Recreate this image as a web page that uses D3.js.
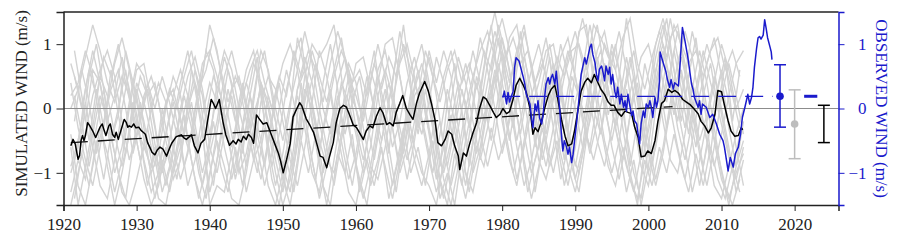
<!DOCTYPE html>
<html>
<head>
<meta charset="utf-8">
<script src="https://cdn.jsdelivr.net/npm/d3@7"></script>
<style>
  body { margin: 0; background: #fff; }
  svg { display: block; font-family: "Liberation Serif", "Times New Roman", serif; }
</style>
</head>
<body>
<div id="chart"></div>
<script>
// yearly values of the simulated ensemble members, 1921..2013
const simYears = d3.range(1921, 2014);
const simRuns = [
  [0.7,0.3,0.8,1.3,0.9,0.4,0.1,0.5,0.2,-0.3, -0.6,-0.9,-0.5,0.1,0.3,-0.2,-0.6,-0.2,0.5,1.3, 0.9,0.2,-0.4,-1.0,-0.7,-0.1,0.3,-0.2,-0.8,-1.3,
   -0.6,0.3,0.6,0.1,-0.5,-0.9,-0.3,0.4,0.1,-0.4, -1.0,-0.6,0.2,0.6,0.2,-0.3,-0.8,-0.4,0.3,0.8, 0.2,-0.6,-1.2,-0.7,0.0,0.5,0.9,1.2,0.8,0.1,
   -0.5,0.2,0.8,0.3,-0.4,-0.9,-0.3,0.4,0.9,0.5, -0.2,-0.6,0.1,0.7,0.3,-0.4,-0.9,-1.3,-0.7,0.0, 0.6,1.0,0.4,-0.3,-0.8,-0.2,0.5,1.0,0.6,-0.1, -0.7,-1.1,-0.6],
  [-1.5,-1.0,-0.4,0.2,0.6,0.9,0.5,-0.2,-0.8,-0.4, 0.2,0.5,0.1,-0.5,-1.0,-0.6,0.0,0.6,0.2,-0.6, -1.0,-0.4,0.3,0.5,0.0,-0.6,-1.1,-0.5,0.2,0.7,
   1.0,0.6,-0.1,-0.8,-1.4,-0.9,-0.2,0.3,0.7,0.4, -0.3,-0.9,-1.1,-0.6,0.1,0.7,1.0,0.5,-0.2,-0.8, -1.3,-0.9,-0.2,0.4,0.1,-0.5,-0.2,0.4,1.0,1.4,
   0.9,0.3,-0.4,-1.0,-0.6,0.2,0.7,0.3,-0.4,-1.1, -0.6,0.3,0.9,1.2,0.6,-0.1,0.4,0.9,0.2,-0.5, -1.1,-0.6,0.1,0.7,1.2,0.8,0.1,-0.5,-0.9,-0.4, 0.2,0.7,0.9],
  [-0.4,-1.2,-1.5,-0.9,-0.3,-0.7,-1.3,-0.8,0.0,0.6, 0.7,0.1,-0.6,-1.2,-0.7,0.0,0.5,0.8,0.3,-0.4, 0.2,0.8,0.4,-0.3,-0.9,-0.4,0.4,0.0,-0.6,-1.1,
   -1.5,-0.8,0.2,0.9,0.5,0.1,0.6,1.1,0.4,-0.3, -0.8,-0.3,0.4,1.0,1.1,0.5,-0.2,-0.8,-1.2,-0.7, 0.0,0.5,0.9,0.3,-0.4,-1.0,-0.6,0.1,0.5,-0.2,
   -0.8,-1.2,-0.5,0.2,0.6,1.1,0.4,-0.3,-0.9,-1.3, -0.7,0.0,0.5,0.1,-0.6,-1.1,-0.5,0.3,0.8,1.0, 0.5,-0.2,-0.8,-1.0,-0.4,0.3,0.9,0.4,-0.3,-1.0, -1.5,-0.9,-0.2],
  [0.2,0.4,0.9,0.5,-0.2,-0.9,-1.5,-1.0,-0.4,0.3, -0.2,-0.8,-1.4,-1.5,-0.9,-0.3,0.2,-0.4,-1.0,-0.5, 0.4,0.9,0.6,0.0,-0.5,0.2,0.9,0.6,0.0,-0.5,
   0.1,0.6,1.2,0.7,0.0,-0.6,-1.2,-0.5,0.1,0.7, 0.8,0.3,-0.4,-0.9,-1.4,-0.8,-0.1,0.6,1.0,0.4, -0.4,-1.1,-1.5,-0.9,-0.2,0.4,1.1,0.6,0.0,-0.7,
   -0.2,0.6,1.2,0.7,0.1,-0.5,-1.0,-0.4,0.3,0.9, 1.4,0.9,0.2,-0.5,-1.0,-0.5,0.3,-0.2,-0.9,-1.2, -0.5,0.4,1.1,1.3,0.6,-0.1,-0.7,-1.2,-0.6,0.2, 0.7,0.2,-0.4],
  [-0.9,-0.5,0.1,-0.6,-1.2,-1.4,-0.8,0.0,0.6,0.2, -0.5,-1.0,-0.7,0.0,0.5,0.2,-0.5,-1.1,-1.5,-1.0, -0.5,-0.9,-1.4,-1.5,-1.0,-0.3,0.4,0.1,-0.5,-0.9,
   -0.4,0.3,0.8,0.4,-0.2,-0.8,-1.0,-0.4,0.3,0.0, -0.6,-1.2,-0.8,-0.2,0.4,1.2,0.6,0.0,-0.4,0.1, 0.8,0.4,-0.3,-0.9,-1.4,-0.8,0.0,0.7,1.2,0.8,
   0.2,-0.5,0.1,0.6,1.0,0.5,0.0,-0.7,-1.2,-0.6, 0.2,0.8,1.3,0.6,0.0,-0.6,-1.3,-0.8,-1.5,-0.9, 0.0,0.7,1.4,0.8,0.2,-0.5,-1.2,-0.6,0.1,0.6, 0.1,-0.6,-1.2],
  [0.4,-0.3,-0.8,-1.2,-0.6,0.1,0.7,1.1,0.6,-0.1, -0.8,-1.3,-1.0,-0.4,0.1,-0.5,-1.2,-0.8,-0.1,0.4, 0.1,-0.6,-1.1,-0.6,0.1,0.7,0.4,-0.3,-1.0,-1.5,
   -1.1,-0.4,0.5,1.0,0.8,1.0,1.3,0.5,-0.3,-0.9, -1.4,-0.9,-0.2,0.3,-0.3,-0.9,-0.4,0.3,0.7,0.2, -0.6,-1.0,-0.5,0.2,0.7,0.2,-0.4,-0.9,-0.4,0.4,
   1.1,1.3,0.6,-0.1,-0.8,-1.1,-0.6,0.2,0.8,1.2, 0.7,0.1,-0.5,-0.9,-0.3,0.5,1.4,0.6,-0.1,-0.7, -1.2,-0.7,0.0,-0.6,-1.1,-0.5,0.2,0.7,1.1,0.5, -0.3,-0.9,-0.5],
  [-1.3,-0.8,-1.1,-0.4,0.2,-0.2,-0.7,-1.3,-1.5,-1.1, -0.6,0.0,0.4,0.1,-0.6,-1.1,-0.7,0.0,0.7,0.9, 0.5,-0.1,-0.6,0.0,0.6,0.9,0.2,-0.6,-1.2,-0.7,
   0.0,1.1,0.6,-0.2,-0.9,-1.5,-0.8,-0.1,0.5,0.2, -0.2,0.4,1.0,0.5,-0.3,-1.0,-0.6,0.2,0.4,-0.3, -0.9,-1.4,-0.8,-0.3,0.3,0.9,0.4,-0.2,0.5,1.1,
   0.6,-0.1,-0.8,-1.4,-0.9,-0.2,0.3,1.0,0.5,0.0, -0.6,-0.2,0.4,1.0,0.7,1.2,0.6,-0.2,-0.8,0.1, 0.8,1.3,0.7,0.0,-0.6,-1.3,-0.8,-0.2,0.4,1.0, 0.6,0.0,0.3],
  [-0.6,-1.5,-0.9,-0.3,0.5,0.2,-0.4,-0.9,-0.4,0.4, 0.1,-0.4,-1.1,-0.8,-0.2,0.4,0.9,0.3,-0.4,-1.3, -0.8,-0.2,0.2,-0.5,-1.3,-0.8,0.1,0.5,0.3,-0.2,
   -0.8,-1.2,-0.6,0.1,0.9,0.5,-0.1,-0.7,-1.3,-1.5, -0.9,-0.2,0.6,0.9,0.3,-0.5,-1.1,-0.5,0.2,0.9, 0.4,0.9,0.5,-0.3,-1.0,-1.3,-0.7,0.0,0.6,0.2,
   -0.4,-1.1,-0.6,0.0,0.4,0.9,1.0,0.4,-0.3,-0.9, -0.3,0.4,0.8,0.3,0.9,0.3,-0.4,-1.0,-1.4,-0.6, 0.3,0.9,0.4,-0.2,0.5,1.2,0.7,0.0,-0.5,-1.1, -1.4,-1.0,-0.7],
  [0.0,0.3,-0.2,0.6,0.4,-0.3,-1.0,-0.6,0.1,0.7, 0.5,-0.2,-0.9,-0.4,0.2,0.6,0.2,-0.5,-1.2,-0.7, -0.2,0.5,0.9,0.4,-0.2,-0.8,-0.5,0.2,-0.2,-0.9,
   -1.3,-0.5,0.3,0.0,-0.6,-0.1,0.5,0.9,0.6,0.0, -0.5,-0.1,0.5,0.0,-0.6,-0.2,0.4,0.8,0.3,-0.4, -1.1,-0.6,0.1,0.8,0.4,-0.2,-0.8,-0.3,0.3,0.9,
   0.4,0.9,1.3,0.6,0.0,-0.4,0.2,0.8,1.1,0.5, -0.1,-0.7,-0.2,0.3,1.0,0.6,0.0,0.5,-0.2,-1.0, -0.6,0.1,0.6,1.2,0.7,0.1,-0.5,-0.1,0.5,0.0, -0.6,-1.3,-0.8],
  [-1.0,-0.6,0.3,0.9,0.4,-0.2,0.2,0.8,0.3,-0.5, -1.1,-1.5,-1.2,-0.6,-1.1,-0.8,0.0,0.4,-0.3,-1.5, -1.2,-1.3,-0.7,-0.1,0.4,0.0,-0.5,-1.2,-1.5,-1.0,
   -0.3,0.2,-0.3,-1.0,-1.3,-0.6,0.0,-0.5,-1.1,-0.7, 0.0,0.6,0.2,-0.5,-1.2,-0.7,0.0,-0.6,-1.0,-1.2, -1.5,-0.8,-0.1,-0.6,-1.2,-0.5,0.3,1.0,1.5,0.9,
   0.1,-0.6,-1.2,-0.8,-0.2,0.4,-0.3,-1.1,-0.6,0.1, 0.6,1.3,0.7,0.0,-0.5,0.1,0.8,0.2,-0.5,0.2, 1.0,1.4,0.9,0.3,-0.3,0.4,0.0,-0.5,-1.2,-1.4, -0.9,-0.4,0.0]
];

// further members sampled mid-year, 1921.5..2012.5
const simYearsMid = d3.range(1921.5, 2013, 1);
const simRunsMid = [
  [0.2,-0.4,0.5,1.0,0.3,-0.5,-0.1,0.9,0.4,-0.2, 0.3,-0.3,-1.0,-0.5,0.1,-0.4,0.6,0.2,0.9,0.6, -0.1,0.6,0.1,-0.7,0.2,0.8,-0.2,-0.9,-0.4,0.3,
   0.8,1.1,0.2,-0.5,0.4,1.0,0.3,-0.6,-1.2,-0.5, 0.3,0.9,0.1,-0.7,0.5,1.3,0.4,-0.3,0.6,-0.2, -0.9,0.1,0.7,-0.1,-0.9,-0.2,0.6,1.3,0.4,-0.5,
   0.3,1.2,0.5,-0.6,0.2,0.8,-0.1,-0.8,0.1,1.2, 1.3,0.4,-0.4,0.5,1.0,0.1,-0.9,-0.2,0.7,0.2, 0.9,1.4,0.6,-0.2,0.5,1.1,0.2,-0.7,0.3,0.8, -0.2,0.6],
  [-1.4,-0.7,-1.2,-0.5,-1.1,-0.4,-1.0,-1.4,-0.6,0.1, -0.7,-1.4,-0.8,-1.3,-0.7,-0.1,-0.8,-1.4,-0.9,-0.2, -0.9,-1.3,-0.6,-1.2,-0.5,-1.0,-0.3,-1.1,-1.5,-0.8,
   -1.3,-0.5,-1.0,-0.4,-1.2,-1.5,-0.7,-1.0,-0.4,-1.3, -0.8,-1.2,-0.6,-1.4,-0.9,-0.3,-1.0,-0.6,-1.2,-0.5, -1.4,-1.0,-1.5,-0.7,-1.3,-0.6,-0.9,-0.3,-0.8,-0.4,
   -1.0,-0.5,-1.3,-0.8,-0.3,-0.9,-0.5,-1.2,-0.7,-1.0, -0.4,-0.8,-0.3,-0.9,-1.2,-0.6,-1.1,-1.4,-0.8,-1.2, -0.6,-1.0,-0.4,-0.9,-1.3,-0.7,-1.2,-0.6,-1.1,-1.4, -0.9,-1.3],
  [0.5,0.0,0.6,0.2,0.8,0.5,1.0,0.4,-0.1,0.5, 0.2,0.4,-0.2,0.3,0.0,0.5,0.9,0.3,0.6,1.1, 0.6,0.1,0.5,0.2,0.6,0.9,0.4,0.0,0.5,0.2,
   0.9,0.5,0.9,0.6,0.1,0.7,1.2,0.8,0.4,0.6, 0.2,0.7,0.3,0.8,0.5,1.0,0.6,0.2,0.9,0.5, 0.1,0.6,0.9,0.4,0.7,0.3,0.9,0.6,1.3,0.8,
   1.1,0.7,0.9,0.4,0.7,0.3,0.8,0.5,0.9,1.0, 0.6,1.3,1.1,0.8,0.6,1.1,1.4,0.7,0.3,0.8, 1.2,0.8,1.3,1.0,0.7,0.9,0.5,0.9,1.1,0.6, 0.9,0.5],
  [-0.8,-0.2,-0.9,-0.3,0.3,-0.5,0.0,0.6,-0.2,-0.8, -0.3,-0.9,0.0,-0.6,-1.1,-0.4,0.1,-0.6,-0.1,0.5, 0.2,-0.5,-1.0,-0.3,0.2,-0.4,-0.9,-0.2,0.4,-0.3,
   -0.9,-0.2,0.4,-0.3,-1.0,-0.5,0.2,-0.4,0.1,0.5, -0.2,-0.8,-0.1,0.4,-0.2,-0.7,0.1,0.6,-0.1,-0.6, -0.2,-0.9,-0.3,0.3,-0.3,0.5,0.1,-0.5,0.2,0.9,
   0.2,-0.4,0.3,-0.2,-0.8,-0.2,0.5,-0.1,-0.6,0.1, 0.7,0.0,-0.4,0.3,-0.3,-0.8,-0.1,0.4,-0.4,-0.9, -0.2,0.5,-0.1,0.6,0.0,-0.6,0.2,0.7,0.0,-0.5, -1.0,-0.4],
  [0.9,0.2,-0.5,0.3,-0.3,0.6,-0.1,-0.7,0.1,-0.5, -1.2,-0.6,-1.3,-0.9,-0.3,-0.9,-0.4,0.3,-0.5,-1.2, -0.4,0.3,-0.2,0.4,-0.3,0.5,0.9,0.2,-0.6,-1.3,
   -0.6,0.4,-0.5,-1.1,-0.3,0.3,-0.4,0.2,-0.6,-1.1, -1.5,-0.7,0.0,-0.6,-1.3,-0.5,0.2,-0.4,0.3,-0.3, -1.1,-1.5,-0.7,-1.2,-0.4,0.4,-0.2,0.5,1.1,0.3,
   -0.3,0.5,-0.2,-1.3,-0.6,0.2,0.6,0.0,-0.9,-1.3, -0.5,0.2,0.6,-0.1,0.4,-0.3,-1.0,-1.5,-0.6,-0.1, 0.4,-0.3,0.2,0.8,0.3,-0.3,-0.9,-0.2,-0.7,-1.2, -1.5,-1.1],
  [-0.2,0.6,0.1,-0.7,-0.2,0.3,0.6,0.0,-0.7,-0.2, 0.4,0.0,0.5,0.1,-0.4,0.2,-0.3,-1.0,-1.4,-0.7, 0.0,-0.4,-1.1,-0.6,0.0,-0.6,-1.2,-0.7,0.0,0.6,
   0.1,-0.5,0.2,0.7,0.0,-0.4,0.4,0.8,0.2,-0.2, 0.5,0.0,-0.5,0.1,0.8,0.2,-0.5,0.1,-0.4,-1.0, -0.4,0.3,-0.2,-0.8,-0.2,-0.7,-0.1,0.2,0.7,0.1,
   0.6,1.0,0.2,-0.3,0.4,1.0,0.3,-0.4,0.5,0.2, -0.2,0.6,0.9,0.3,-0.3,0.2,0.8,0.1,-0.6,0.1, 0.7,0.1,0.9,0.3,-0.4,0.3,0.9,0.4,0.0,0.7, 0.2,-0.3]
];

// ensemble mean [year, m/s]
const simMean = [
  [1921.0,-0.58],[1921.3,-0.48],[1921.6,-0.55],[1922.0,-0.79],[1922.2,-0.73],[1922.4,-0.50],[1922.6,-0.42],[1922.8,-0.50],
  [1923.0,-0.42],[1923.3,-0.22],[1923.6,-0.27],[1924.0,-0.35],[1924.4,-0.45],[1924.7,-0.37],[1925.0,-0.29],[1925.3,-0.24],
  [1925.5,-0.32],[1925.8,-0.42],[1926.2,-0.27],[1926.4,-0.24],[1926.7,-0.40],[1927.0,-0.45],[1927.2,-0.37],[1927.5,-0.48],
  [1927.7,-0.40],[1928.3,-0.17],[1928.6,-0.22],[1928.8,-0.29],[1929.0,-0.27],[1929.3,-0.29],[1929.6,-0.24],[1929.9,-0.30],
  [1930.3,-0.29],[1930.6,-0.34],[1930.9,-0.37],[1931.2,-0.40],[1931.5,-0.53],[1931.8,-0.60],[1932.1,-0.68],[1932.5,-0.72],
  [1932.8,-0.65],[1933.2,-0.60],[1933.6,-0.63],[1934.1,-0.74],[1934.5,-0.62],[1934.8,-0.54],[1935.4,-0.44],[1936.1,-0.41],
  [1936.5,-0.46],[1936.8,-0.48],[1937.5,-0.41],[1937.9,-0.58],[1938.4,-0.69],[1938.8,-0.54],[1939.3,-0.48],[1939.7,-0.20],
  [1940.2,0.14],[1940.5,0.08],[1940.8,0.00],[1941.3,0.14],[1941.8,-0.20],[1942.2,-0.41],[1942.7,-0.57],[1943.2,-0.50],
  [1943.6,-0.55],[1943.9,-0.48],[1944.3,-0.52],[1944.6,-0.43],[1945.0,-0.48],[1945.3,-0.40],[1945.7,-0.45],[1946.0,-0.54],
  [1946.4,-0.10],[1946.7,-0.15],[1946.9,-0.18],[1947.3,-0.24],[1947.8,-0.22],[1948.3,-0.37],[1948.9,-0.55],[1949.4,-0.70],
  [1949.7,-0.82],[1950.05,-1.00],[1950.5,-0.80],[1951.0,-0.55],[1951.4,-0.13],[1951.8,-0.03],[1952.3,0.09],[1952.6,0.04],
  [1953.2,-0.16],[1953.7,-0.26],[1954.2,-0.37],[1954.6,-0.53],[1955.1,-0.74],[1955.5,-0.76],[1956.0,-0.92],[1956.4,-0.74],
  [1956.9,-0.53],[1957.3,-0.22],[1957.8,0.00],[1958.3,0.05],[1958.7,0.02],[1959.2,-0.12],[1959.6,-0.25],[1960.1,-0.30],
  [1960.5,-0.38],[1961.0,-0.48],[1961.4,-0.35],[1961.9,-0.27],[1962.3,-0.30],[1962.8,-0.12],[1963.3,0.01],[1963.7,-0.07],
  [1964.2,-0.25],[1964.6,-0.22],[1965.1,-0.27],[1965.5,-0.06],[1966.0,0.08],[1966.4,0.20],[1966.9,0.00],[1967.4,-0.10],
  [1967.8,-0.17],[1968.3,0.09],[1968.7,0.24],[1969.4,0.42],[1969.9,0.27],[1970.3,0.09],[1970.8,-0.17],[1971.2,-0.53],
  [1971.7,-0.58],[1972.2,-0.48],[1972.6,-0.35],[1973.1,-0.40],[1973.5,-0.58],[1974.0,-0.74],[1974.2,-0.95],[1974.7,-0.69],
  [1975.1,-0.74],[1975.6,-0.53],[1976.0,-0.38],[1976.5,-0.22],[1976.9,0.00],[1977.4,0.18],[1977.8,0.15],[1978.3,0.05],
  [1978.8,-0.06],[1979.2,-0.14],[1979.7,-0.09],[1980.1,0.00],[1980.6,-0.08],[1981.0,-0.05],[1981.5,0.15],[1981.9,0.36],
  [1982.4,0.47],[1982.9,0.36],[1983.3,0.25],[1983.8,0.00],[1984.2,-0.40],[1984.5,-0.30],[1984.9,-0.36],[1985.4,-0.19],
  [1985.8,0.00],[1986.3,0.20],[1986.7,0.30],[1987.2,0.36],[1987.6,0.15],[1988.1,-0.17],[1988.6,-0.43],[1989.0,-0.58],
  [1989.5,-0.55],[1989.9,-0.35],[1990.4,0.00],[1990.8,0.27],[1991.3,0.41],[1991.7,0.47],[1992.2,0.40],[1992.6,0.53],
  [1993.1,0.40],[1993.5,0.30],[1994.0,0.22],[1994.5,0.10],[1994.9,0.05],[1995.3,0.05],[1995.8,-0.06],[1996.3,-0.12],
  [1996.8,-0.04],[1997.2,-0.06],[1997.7,-0.08],[1998.1,-0.28],[1998.6,-0.45],[1999.0,-0.75],[1999.5,-0.74],[1999.9,-0.66],
  [2000.4,-0.70],[2000.9,-0.50],[2001.3,-0.20],[2001.8,0.08],[2002.2,0.12],[2002.7,0.30],[2003.2,0.25],[2003.6,0.28],
  [2004.1,0.24],[2004.7,0.14],[2005.2,0.10],[2005.7,0.06],[2006.2,0.00],[2006.8,-0.08],[2007.2,-0.20],[2007.7,-0.27],
  [2008.2,-0.38],[2008.6,-0.30],[2009.1,-0.09],[2009.5,0.28],[2010.0,0.26],[2010.4,0.05],[2010.9,-0.19],[2011.3,-0.35],
  [2011.8,-0.43],[2012.3,-0.42],[2012.7,-0.30],[2012.9,-0.33]
];

// observed wind [year, m/s]
const observed = [
  [1980.1,0.17],[1980.3,0.27],[1980.6,0.07],[1980.8,0.25],[1981.0,0.10],[1981.2,0.17],[1981.5,0.27],[1981.7,0.64],
  [1981.9,0.79],[1982.3,0.74],[1982.6,0.61],[1982.9,0.48],[1983.1,0.38],[1983.3,0.22],[1983.8,0.07],[1984.0,-0.14],
  [1984.2,-0.30],[1984.5,0.07],[1984.7,-0.04],[1984.9,0.12],[1985.1,-0.14],[1985.4,-0.24],[1985.6,-0.09],[1985.8,0.17],
  [1986.0,0.38],[1986.3,0.48],[1986.5,0.38],[1986.7,0.48],[1986.9,0.53],[1987.2,0.38],[1987.4,0.58],[1987.6,0.33],
  [1987.9,-0.05],[1988.1,-0.40],[1988.3,-0.66],[1988.5,-0.50],[1988.8,-0.60],[1989.0,-0.71],[1989.2,-0.60],[1989.5,-0.84],
  [1989.7,-0.71],[1989.9,-0.50],[1990.1,-0.30],[1990.4,0.02],[1990.6,0.27],[1990.8,0.53],[1991.1,0.69],[1991.3,0.79],
  [1991.5,0.69],[1991.7,0.79],[1992.0,0.95],[1992.2,1.00],[1992.4,0.84],[1992.7,0.71],[1992.9,0.53],[1993.1,0.43],
  [1993.3,0.61],[1993.6,0.66],[1993.8,0.56],[1994.0,0.43],[1994.2,0.66],[1994.5,0.53],[1994.7,0.64],[1994.9,0.38],
  [1995.1,0.53],[1995.4,0.27],[1995.6,0.17],[1995.8,0.33],[1996.1,0.07],[1996.3,0.22],[1996.6,0.02],[1996.8,0.12],
  [1997.0,-0.04],[1997.2,0.22],[1997.5,0.02],[1997.7,-0.11],[1997.9,-0.04],[1998.1,-0.19],[1998.4,-0.24],[1998.6,-0.40],
  [1998.8,-0.55],[1999.0,-0.24],[1999.3,-0.04],[1999.5,-0.14],[1999.7,0.07],[2000.0,0.02],[2000.2,0.12],[2000.4,0.02],
  [2000.6,-0.14],[2000.9,0.17],[2001.1,0.02],[2001.3,0.12],[2001.5,0.41],[2001.6,0.88],[2002.0,0.72],[2002.4,0.57],
  [2002.6,0.45],[2002.9,0.33],[2003.1,0.45],[2003.4,0.30],[2003.6,0.40],[2004.1,0.35],[2004.3,0.64],[2004.65,1.26],
  [2005.0,1.05],[2005.4,0.79],[2005.9,0.38],[2006.1,0.30],[2006.3,0.17],[2006.8,0.02],[2007.0,0.12],[2007.2,-0.09],
  [2007.4,0.07],[2007.9,0.02],[2008.4,-0.14],[2008.8,-0.09],[2009.3,-0.24],[2009.75,-0.40],[2010.2,-0.50],[2010.4,-0.60],
  [2010.9,-0.97],[2011.2,-0.76],[2011.6,-0.91],[2011.9,-0.70],[2012.3,-0.60],[2012.6,-0.40],[2012.85,-0.14],[2013.2,0.02],
  [2013.4,0.12],[2013.6,0.22],[2013.85,0.07],[2014.1,0.17],[2014.3,0.33],[2014.5,0.64],[2014.8,0.94],[2015.0,1.10],
  [2015.2,1.12],[2015.4,1.08],[2015.7,1.14],[2015.9,1.38],[2016.1,1.25],[2016.3,1.10],[2016.6,0.97],[2016.8,0.88],[2016.9,0.76]
];

// trend lines
const simTrend = [[1921, -0.53], [2003.3, 0.03]];
const obsMeanLine = [[1980, 0.19], [2017, 0.19]];
const obsMark = [[2021.3, 0.19], [2023.1, 0.19]];

// error bars on the right: observed, simulated members, ensemble mean
const barYears = [2018, 2020, 2024];
const barCentre = [0.19, -0.24, null];
const barLow = [-0.29, -0.78, -0.53];
const barHigh = [0.68, 0.29, 0.05];

const xTicks = [1920, 1930, 1940, 1950, 1960, 1970, 1980, 1990, 2000, 2010, 2020];
const yTicks = [-1, 0, 1];

const BLUE = "#1a1acc";
const FONT = "'Liberation Serif', 'Times New Roman', serif";
const W = 900, H = 243;
const margin = { top: 12, right: 61.5, bottom: 38, left: 63.5 };

const svg = d3.select("#chart").append("svg")
    .attr("width", W)
    .attr("height", H);

const x = d3.scaleLinear().domain([1920, 2026]).range([margin.left, W - margin.right]);
const y = d3.scaleLinear().domain([-1.5, 1.5]).range([H - margin.bottom, margin.top]);

svg.append("clipPath").attr("id", "plot")
  .append("rect")
    .attr("x", margin.left).attr("y", margin.top)
    .attr("width", x.range()[1] - x.range()[0])
    .attr("height", y.range()[0] - y.range()[1]);

const line = d3.line().x(d => x(d[0])).y(d => y(d[1]));
const g = svg.append("g").attr("clip-path", "url(#plot)");

// grey ensemble members
const runs = simRuns.map(r => r.map((v, i) => [simYears[i], v]))
    .concat(simRunsMid.map(r => r.map((v, i) => [simYearsMid[i], v])));
g.selectAll(".run")
  .data(runs)
  .join("path")
    .attr("class", "run")
    .attr("fill", "none")
    .attr("stroke", "#d3d3d3")
    .attr("stroke-width", 1.4)
    .attr("d", line);

// zero line
g.append("line")
    .attr("x1", x.range()[0]).attr("x2", x.range()[1])
    .attr("y1", y(0)).attr("y2", y(0))
    .attr("stroke", "#8c8c8c")
    .attr("stroke-width", 1);

g.append("path")
    .attr("d", line(simTrend))
    .attr("fill", "none")
    .attr("stroke", "#111")
    .attr("stroke-width", 1.3)
    .attr("stroke-dasharray", "17,10");

g.append("path")
    .attr("d", line(simMean))
    .attr("fill", "none")
    .attr("stroke", "#000")
    .attr("stroke-width", 1.5)
    .attr("stroke-linejoin", "round");

g.append("path")
    .attr("d", line(obsMeanLine))
    .attr("fill", "none")
    .attr("stroke", BLUE)
    .attr("stroke-width", 1.3)
    .attr("stroke-dasharray", "18,9");

g.append("path")
    .attr("d", line(observed))
    .attr("fill", "none")
    .attr("stroke", BLUE)
    .attr("stroke-width", 1.5)
    .attr("stroke-linejoin", "round");

// right hand error bars
const barColors = [BLUE, "#bdbdbd", "#000"];
const bars = svg.append("g");
barYears.forEach((yr, i) => {
  const bx = x(yr), c = barColors[i];
  bars.append("line")
      .attr("x1", bx).attr("x2", bx)
      .attr("y1", y(barLow[i])).attr("y2", y(barHigh[i]))
      .attr("stroke", c).attr("stroke-width", 1.5);
  [barLow[i], barHigh[i]].forEach(v => {
    bars.append("line")
        .attr("x1", bx - 6).attr("x2", bx + 6)
        .attr("y1", y(v)).attr("y2", y(v))
        .attr("stroke", c).attr("stroke-width", 1.5);
  });
  if (barCentre[i] !== null) {
    bars.append("circle")
        .attr("cx", bx).attr("cy", y(barCentre[i]))
        .attr("r", 3.8)
        .attr("fill", c);
  }
});

bars.append("path")
    .attr("d", line(obsMark))
    .attr("stroke", BLUE)
    .attr("stroke-width", 3);

// frame
svg.append("line")
    .attr("x1", x.range()[0]).attr("x2", x.range()[1])
    .attr("y1", y.range()[1]).attr("y2", y.range()[1])
    .attr("stroke", "#222").attr("stroke-width", 1.5);

const xAxis = svg.append("g")
    .attr("transform", `translate(0,${y.range()[0]})`)
    .call(d3.axisBottom(x).tickValues(xTicks).tickFormat(d3.format("d")).tickSize(6).tickPadding(7));

const yAxis = svg.append("g")
    .attr("transform", `translate(${x.range()[0]},0)`)
    .call(d3.axisLeft(y).tickValues(yTicks).tickFormat(d3.format("d")).tickSize(7).tickPadding(5));

const yAxisR = svg.append("g")
    .attr("transform", `translate(${x.range()[1]},0)`)
    .call(d3.axisRight(y).tickValues(yTicks).tickFormat(d3.format("d")).tickSize(6).tickPadding(8));

[xAxis, yAxis, yAxisR].forEach(a => {
  a.attr("font-family", null).attr("font-size", null);
  a.selectAll("text").style("font-family", FONT).style("font-size", "17px");
  a.select(".domain").attr("stroke-width", 1.5);
});
xAxis.selectAll(".domain, line").attr("stroke", "#222");
xAxis.selectAll("text").attr("fill", "#222");
yAxis.selectAll(".domain, line").attr("stroke", "#222");
yAxis.selectAll("text").attr("fill", "#222");
yAxisR.selectAll(".domain, line").attr("stroke", BLUE);
yAxisR.selectAll("text").attr("fill", BLUE).attr("text-anchor", "end").attr("x", 28);

svg.append("text")
    .attr("transform", `translate(27,${(y.range()[0] + y.range()[1]) / 2 - 5}) rotate(-90)`)
    .attr("text-anchor", "middle")
    .style("font-family", FONT)
    .style("font-size", "17px")
    .attr("fill", "#222")
    .text("SIMULATED WIND (m/s)");

svg.append("text")
    .attr("transform", `translate(876,${(y.range()[0] + y.range()[1]) / 2}) rotate(90)`)
    .attr("text-anchor", "middle")
    .style("font-family", FONT)
    .style("font-size", "17px")
    .attr("fill", BLUE)
    .text("OBSERVED WIND (m/s)");
</script>
</body>
</html>
